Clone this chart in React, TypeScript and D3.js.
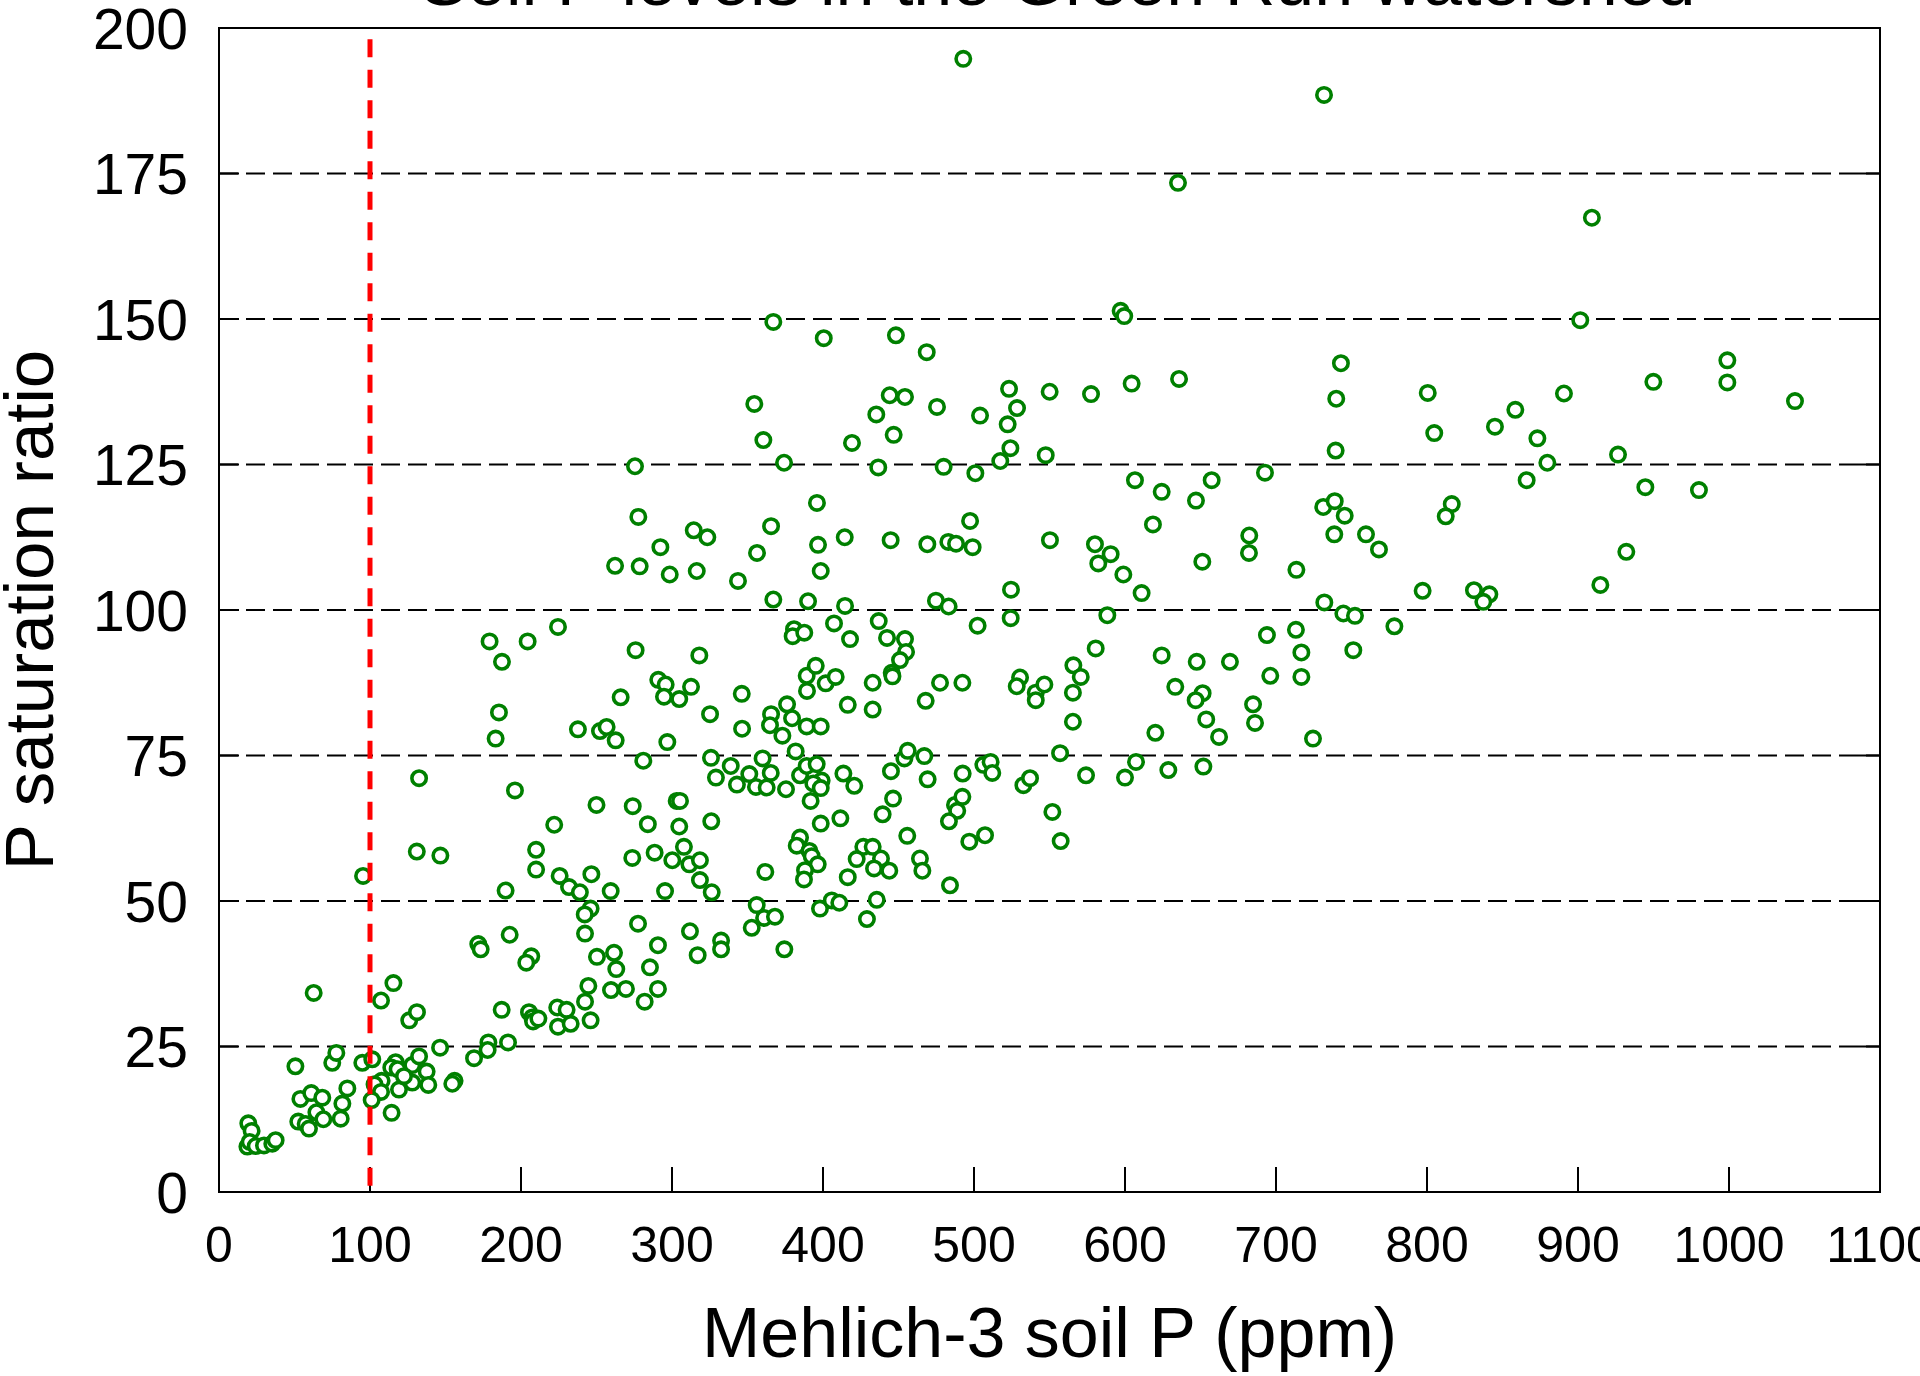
import * as d3 from "d3";
import { useEffect } from "react";

// Mehlich-3 soil P (ppm) and P saturation ratio, one entry per sample
const mehlichP = [
  281, 132.5, 196, 250, 274, 222, 284, 131, 146.6, 210,
  273.7, 288.5, 95.4, 210, 225.6, 246.6, 231.8, 239, 259.4, 189.8,
  295.4, 246.1, 242.2, 277.5, 242.4, 290.7, 171.7, 173.3, 192.5, 206.8,
  203.5, 250.3, 261.6, 263.1, 285.4, 244.6, 259.6, 269.5, 290.7, 242.4,
  281.9, 62.7, 107.3, 115.5, 126, 131.1, 187.2, 205.3, 207.5, 208,
  211.5, 224, 230.2, 224.5, 232.9, 246.1, 146.4, 178.4, 177.9, 191.4,
  168.9, 50.6, 75, 77.7, 94.9, 101.5, 117, 114.1, 118.3, 128,
  132.5, 137.5, 156, 154.5, 107.7, 103, 107.3, 119.2, 128, 138.6,
  122.5, 101.1, 114.3, 53.9, 61.1, 68.4, 85, 81.7, 52.5, 57.4,
  59.6, 64.5, 69.1, 80.6, 19.4, 21.6, 18.8, 20.3, 24.3, 29.8,
  35.3, 37.5,
  275.5, 277.7, 292.3, 262.3, 278.6, 298.5, 224.5, 179.2, 204.4, 187.4,
  275.9, 290.9, 295.8, 294.7, 266, 185.4, 183.2, 237.7, 252.3, 256.7,
  262.7, 296.9,
  367.1, 400.5, 448.3, 468.7, 354.5, 523.2, 550.1, 577.5, 444.2, 454.3,
  475.5, 435.3, 504, 528.5, 522.3, 360.5, 446.8, 419.2, 524.1, 517.4,
  547.5, 374.2, 436.6, 479.9, 500.9, 396, 497.4, 314.4, 323.4, 365.6,
  356.3, 396.7, 414.4, 444.8, 469.1, 483, 488.1, 499.1, 550.3, 580.1,
  582.3, 316.4, 343.7, 398.5, 524.5, 367.1, 390.1, 414.6, 474.8, 483.2,
  436.9, 407.3, 502.4, 524.3, 380.8, 379.9, 387.6, 417.9, 442.4, 454.3,
  455, 451, 445.5, 446, 318.1, 580.6, 304.8, 312.6, 346.2, 325.2,
  346.4, 389.2, 395.2, 401.8, 408.4, 389.4, 432.9, 416.4, 432.9, 477.5,
  492.3, 468, 530.5, 528.3, 540.9, 546.6, 540.9, 565.8, 570.7, 565.5,
  565.5, 365.6, 364.9, 376.2, 379.5, 389.2, 398.5, 373.1,
  325.8, 329.1, 338.9, 343, 351.2, 355.6, 360, 365.4, 362.7, 375.5,
  381.9, 384.8, 389.2, 395.8, 399.1, 393.6, 398.5, 391.8, 413.5, 420.7,
  445, 453.9, 456.1, 467.1, 469.3, 446.4, 439.5, 411.5, 398.5, 492.5,
  506.2, 511, 512.1, 532.7, 537.1, 557, 574.2, 487.4, 492.3, 488.9,
  483.4, 551.9, 557.4, 455.8, 496.9, 507.3, 464.2, 465.8, 484.1, 426.7,
  432.9, 422.3, 438.4, 433.8, 443.9, 416.4, 384.8, 382.6, 391, 392.5,
  396.5, 388.1, 387.4, 361.8, 326, 304.8, 303.1, 305.3, 307.9, 300.2,
  311.5, 318.5, 318.5, 326.3, 356.1, 361, 368.2, 352.8, 398, 405.8,
  410.8, 435.6, 429.1, 311.9, 332.5, 332.5, 317, 374.4,
  597.1, 599.5, 743, 604.4, 635.8, 739.9, 800.5, 804.8, 845, 739.5,
  692.7, 606.6, 657.4, 624.3, 647, 618.5, 731.3, 738.9, 745.5, 816.4,
  812.4, 738.6, 759.6, 768.2, 590.5, 598.9, 611, 651.2, 682.3, 682.1,
  713.5, 797.1, 831.1, 841.3, 837.3, 732, 744.6, 752.3, 778.4, 588.3,
  624.3, 647.5, 669.5, 694, 713.2, 716.8, 751.2, 633.3, 651.4, 646.8,
  696.2, 716.8, 684.8, 686.1, 653.8, 662.3, 620.1, 724.5,
  600, 607.3, 628.7, 651.9,
  901.5, 998.9, 998.9, 1043.7, 949.9, 890.7, 858.5, 873.1, 879.7, 926.5,
  866, 944.6, 980.1, 932, 914.8,
  492.9, 731.8, 635.1, 909.2,
];

const pSatRatio = [
  74.1, 71.1, 69.0, 66.5, 66.3, 63.1, 63.2, 58.5, 57.8, 58.8,
  57.4, 58.3, 54.3, 55.4, 54.3, 54.6, 52.4, 51.5, 51.7, 51.8,
  51.7, 48.7, 47.7, 46.1, 44.4, 42.4, 42.6, 41.7, 44.2, 40.5,
  39.4, 40.4, 41.1, 38.3, 38.6, 35.4, 34.7, 34.9, 34.9, 32.7,
  32.7, 34.2, 32.9, 35.9, 29.5, 30.9, 31.3, 30.9, 30.0, 29.3,
  29.8, 31.7, 31.3, 28.4, 28.9, 29.5, 24.8, 25.7, 24.4, 25.7,
  23.0, 21.6, 22.2, 23.9, 22.2, 22.8, 22.3, 21.4, 21.1, 21.8,
  23.3, 20.7, 19.1, 18.6, 19.1, 18.5, 17.2, 17.6, 18.8, 18.4,
  19.9, 15.8, 13.6, 16.0, 17.0, 16.2, 17.8, 15.2, 12.1, 11.7,
  10.9, 13.7, 12.5, 12.6, 11.8, 10.5, 7.8, 8.6, 7.9, 8.0,
  8.3, 8.9,
  124.7, 116.0, 110.8, 107.6, 107.5, 106.1, 97.1, 94.6, 94.6, 91.1,
  93.1, 88.0, 87.2, 85.1, 85.0, 82.4, 77.9, 79.5, 79.2, 79.9,
  77.6, 77.3,
  149.5, 146.7, 147.2, 144.3, 135.4, 138.0, 137.5, 137.1, 136.9, 136.6,
  134.9, 133.6, 133.4, 134.7, 131.9, 129.2, 130.1, 128.7, 127.8, 125.6,
  126.6, 125.3, 124.5, 124.6, 123.5, 118.4, 115.3, 113.7, 112.5, 114.4,
  109.8, 111.2, 112.5, 112.0, 111.3, 111.7, 111.4, 110.8, 112.0, 111.3,
  108.0, 106.7, 105.0, 106.7, 103.5, 101.8, 101.5, 100.7, 101.6, 100.6,
  98.1, 97.7, 97.3, 98.6, 96.7, 95.5, 96.1, 95.0, 95.2, 95.0,
  92.8, 91.4, 89.2, 88.6, 92.2, 93.4, 84.7, 86.8, 85.6, 82.1,
  79.6, 88.7, 90.4, 87.4, 88.5, 86.1, 87.5, 83.7, 82.9, 87.5,
  87.5, 84.4, 88.4, 86.9, 85.8, 87.2, 84.5, 90.5, 88.5, 85.8,
  80.8, 82.1, 80.2, 83.8, 81.4, 80.0, 80.0, 78.4,
  74.6, 71.2, 73.2, 70.0, 71.8, 69.6, 74.5, 72.0, 69.5, 69.2,
  75.7, 71.6, 73.2, 73.5, 70.7, 70.2, 69.4, 67.2, 71.9, 69.8,
  72.3, 74.5, 75.8, 74.9, 70.9, 67.6, 64.9, 64.2, 63.3, 71.9,
  73.4, 73.9, 72.0, 69.9, 71.1, 75.4, 71.6, 66.5, 67.9, 65.5,
  63.7, 65.3, 60.3, 61.2, 60.2, 61.3, 57.3, 55.2, 52.7, 59.3,
  59.3, 57.2, 57.3, 55.6, 55.2, 54.1, 60.9, 59.5, 58.6, 57.7,
  56.3, 55.3, 53.7, 55.0, 63.7, 62.8, 67.2, 67.2, 59.3, 57.0,
  56.3, 57.0, 53.6, 51.5, 49.3, 47.1, 47.3, 45.4, 48.7, 50.1,
  49.7, 50.2, 46.9, 44.8, 43.2, 41.7, 40.7, 41.7,
  151.4, 150.5, 142.4, 138.9, 139.7, 136.3, 137.3, 130.4, 131.5, 127.4,
  123.6, 122.3, 122.3, 120.3, 118.8, 114.7, 117.7, 118.7, 116.2, 118.2,
  116.1, 113.0, 113.0, 110.4, 109.6, 106.1, 102.9, 108.3, 112.8, 109.8,
  106.9, 103.3, 103.4, 102.7, 101.4, 101.3, 99.4, 99.0, 97.2, 99.1,
  92.2, 91.1, 91.1, 95.7, 96.6, 92.7, 93.1, 86.8, 85.7, 84.5,
  88.7, 88.5, 83.8, 80.6, 81.2, 78.2, 78.9, 77.9,
  71.2, 73.9, 72.5, 73.1,
  149.8, 142.9, 139.1, 135.9, 139.2, 137.2, 134.4, 129.5, 125.3, 126.7,
  122.3, 121.1, 120.6, 110.0, 104.3,
  194.7, 188.5, 173.4, 167.4,
];

const xTickValues = [0, 100, 200, 300, 400, 500, 600, 700, 800, 900, 1000, 1100];
const yTickValues = [0, 25, 50, 75, 100, 125, 150, 175, 200];
const gridValues = [25, 50, 75, 100, 125, 150, 175];
const thresholdP = 100;

const titleText = "Soil P levels in the Green Run watershed";
const xLabel = "Mehlich-3 soil P (ppm)";
const yLabel = "P saturation ratio";

export default function App() {
  useEffect(() => {
    document.body.style.margin = "0";
  }, []);

  const width = 1920,
    height = 1376;
  const font = "'Liberation Sans', Arial, Helvetica, sans-serif";

  const x = d3.scaleLinear().domain([0, 1100]).range([219, 1880]);
  const y = d3.scaleLinear().domain([0, 200]).range([1192, 28]);

  const [x0, x1] = x.range();
  const [y0, y1] = y.range();

  const points = mehlichP.map((p, i) => [p, pSatRatio[i]]);

  return (
    <svg width={width} height={height} style={{ display: "block", background: "#fff" }}>
      {/* title, mostly off the top of the picture */}
      <text x={1058} y={5} textAnchor="middle" fontFamily={font} fontSize={70} fill="#000">
        {titleText}
      </text>

      {/* dashed grid lines */}
      {gridValues.map((v) => (
        <line
          key={"g" + v}
          x1={x0}
          x2={x1}
          y1={y(v)}
          y2={y(v)}
          stroke="#000"
          strokeWidth={2}
          strokeDasharray="19 8"
        />
      ))}

      {/* ticks pointing inward */}
      {xTickValues.slice(1, -1).map((v) => (
        <line key={"xt" + v} x1={x(v)} x2={x(v)} y1={y0} y2={y0 - 25} stroke="#000" strokeWidth={2} />
      ))}
      {yTickValues.slice(1, -1).map((v) => (
        <g key={"yt" + v}>
          <line x1={x0} x2={x0 + 20} y1={y(v)} y2={y(v)} stroke="#000" strokeWidth={2} />
          <line x1={x1 - 22} x2={x1} y1={y(v)} y2={y(v)} stroke="#000" strokeWidth={2} />
        </g>
      ))}

      {/* samples */}
      {points.map(([p, r], i) => (
        <circle key={i} cx={x(p)} cy={y(r)} r={7.2} fill="#fff" stroke="#008000" strokeWidth={3.6} />
      ))}

      {/* 100 ppm threshold */}
      <line
        x1={x(thresholdP)}
        x2={x(thresholdP)}
        y1={y1}
        y2={y0}
        stroke="#ff0000"
        strokeWidth={5}
        strokeDasharray="18 12.5"
        strokeDashoffset={19.2}
      />

      {/* frame */}
      <rect x={x0} y={y1} width={x1 - x0} height={y0 - y1} fill="none" stroke="#000" strokeWidth={2} />

      {/* tick labels */}
      {xTickValues.map((v) => (
        <text key={"xl" + v} x={x(v)} y={1262} textAnchor="middle" fontFamily={font} fontSize={50} fill="#000">
          {v}
        </text>
      ))}
      {yTickValues.map((v) => (
        <text key={"yl" + v} x={188} y={y(v) + 20.5} textAnchor="end" fontFamily={font} fontSize={57} fill="#000">
          {v}
        </text>
      ))}

      {/* axis titles */}
      <text x={(x0 + x1) / 2} y={1357} textAnchor="middle" fontFamily={font} fontSize={70} fill="#000">
        {xLabel}
      </text>
      <text
        transform={`translate(53, ${(y0 + y1) / 2}) rotate(-90)`}
        textAnchor="middle"
        fontFamily={font}
        fontSize={69}
        fill="#000"
      >
        {yLabel}
      </text>
    </svg>
  );
}
